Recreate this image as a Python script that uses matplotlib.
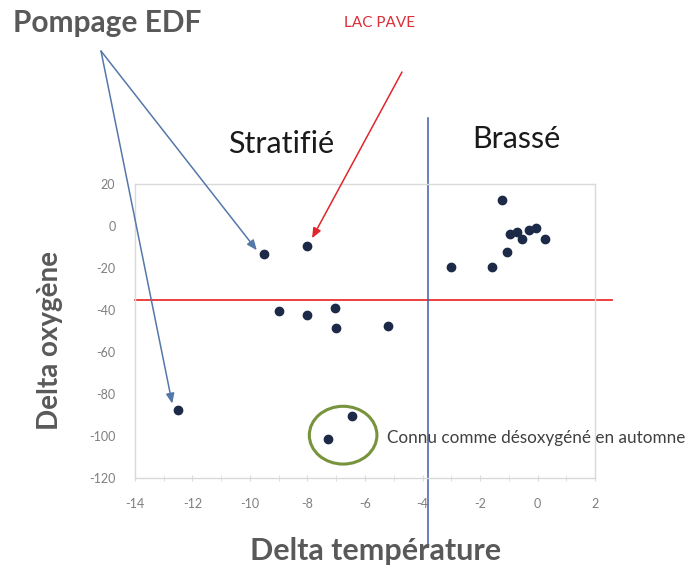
import matplotlib
matplotlib.use("Agg")
import matplotlib.pyplot as plt
from matplotlib.patches import Ellipse
from matplotlib.ticker import MultipleLocator

plt.rcParams['font.family'] = ['Lato', 'DejaVu Sans']
plt.rcParams['axes.unicode_minus'] = False

# Data
delta_temp = [-9.5, -8.0, -1.25, -0.95, -0.7, -0.55, -0.3, -0.05, 0.25, -1.05, -3.0, -1.6,
              -9.0, -8.0, -7.05, -7.0, -5.2, -12.5, -6.45, -7.3]
delta_oxy = [-13.5, -9.5, 12.5, -4.0, -3.0, -6.0, -2.0, -1.0, -6.3, -12.5, -19.5, -19.5,
             -40.5, -42.5, -39.0, -48.5, -47.5, -87.5, -90.5, -101.5]
x_ticks = [-14, -12, -10, -8, -6, -4, -2, 0, 2]
y_ticks = [20, 0, -20, -40, -60, -80, -100, -120]
oxy_threshold = -35
temp_threshold = -3.8

fig = plt.figure(figsize=(6.88, 5.68), dpi=100)
ax = fig.add_axes([0.196, 0.158, 0.669, 0.518])

ax.scatter(delta_temp, delta_oxy, s=36, color='#1c2a48', zorder=3)

ax.set_xlim(-14, 2)
ax.set_ylim(-120, 20)
ax.set_xticks(x_ticks)
ax.set_yticks(y_ticks)
ax.xaxis.set_minor_locator(MultipleLocator(1))
for s in ax.spines.values():
    s.set_color('#d9d9d9')
    s.set_linewidth(1.0)
ax.tick_params(axis='both', which='both', colors='#d9d9d9', labelcolor='#7f7f7f',
               labelsize=9, length=0)
ax.tick_params(axis='x', which='both', direction='inout', length=4)
ax.tick_params(axis='x', pad=12)
ax.tick_params(axis='y', pad=14)

# threshold lines
ax.plot([-14, 2.6], [oxy_threshold, oxy_threshold], color='#e8302f', lw=1.3,
        clip_on=False, zorder=2)
ax.plot([temp_threshold, temp_threshold], [51.5, -152], color='#3f5ca6', lw=1.1,
        clip_on=False, zorder=2)

# circle around autumn-deoxygenated lakes
ax.add_patch(Ellipse((-6.76, -99.5), 2.35, 27.5, fill=False, edgecolor='#77933c',
                     lw=2.2, zorder=2))
ax.text(-5.25, -101, 'Connu comme désoxygéné en automne', fontsize=12.3,
        color='#404040', va='center', ha='left', clip_on=False)

# axis titles
fig.text(50/688, 1-341/568, 'Delta oxygène', rotation=90, fontsize=20,
         fontweight='bold', color='#595959', ha='center', va='center')
fig.text(376/688, 1-551/568, 'Delta température', fontsize=22,
         fontweight='bold', color='#595959', ha='center', va='center')

# region labels
fig.text(281/688, 1-144/568, 'Stratifié', fontsize=22, color='#1a1a1a',
         ha='center', va='center')
fig.text(516/688, 1-139/568, 'Brassé', fontsize=22, color='#1a1a1a',
         ha='center', va='center')

# annotations
fig.text(107/688, 1-23/568, 'Pompage EDF', fontsize=21.5, fontweight='bold',
         color='#595959', ha='center', va='center')
fig.text(380/688, 1-23/568, 'LAC PAVE', fontsize=11, color='#d9303a',
         ha='center', va='center')

blue_arrow = dict(arrowstyle='-|>,head_length=0.6,head_width=0.25', color='#5577aa', lw=1.1,
                  shrinkA=0, shrinkB=0)
ax.annotate('', xy=(-9.76, -11.5), xycoords='data',
            xytext=(101/688, 1-51/568), textcoords='figure fraction',
            arrowprops=blue_arrow, annotation_clip=False)
ax.annotate('', xy=(-12.7, -84.5), xycoords='data',
            xytext=(101/688, 1-51/568), textcoords='figure fraction',
            arrowprops=blue_arrow, annotation_clip=False)
ax.annotate('', xy=(-7.84, -5.8), xycoords='data',
            xytext=(402/688, 1-72/568), textcoords='figure fraction',
            arrowprops=dict(arrowstyle='-|>,head_length=0.6,head_width=0.25',
                            color='#e0262c', lw=1.1, shrinkA=0, shrinkB=0),
            annotation_clip=False)

fig.savefig('out.png', dpi=100, facecolor='white')
